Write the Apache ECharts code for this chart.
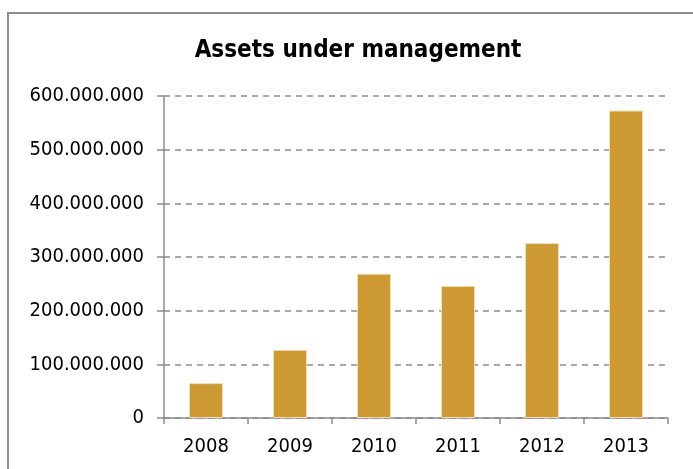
<!DOCTYPE html>
<html>
<head>
<meta charset="utf-8">
<title>Assets under management</title>
<script src="https://cdn.jsdelivr.net/npm/echarts@6/dist/echarts.min.js"></script>
<style>
  html, body { margin: 0; padding: 0; background: #fff; }
  #main { width: 693px; height: 469px; }
</style>
</head>
<body>
<div id="main"></div>
<script>
// data
var years = ['2008', '2009', '2010', '2011', '2012', '2013'];
var assets = [65000000, 127000000, 269000000, 246000000, 326000000, 573000000];
var yTicks = [0, 100000000, 200000000, 300000000, 400000000, 500000000, 600000000];

// 600000000 -> 600.000.000
function dotted(v) {
    return String(v).replace(/\B(?=(\d{3})+(?!\d))/g, '.');
}

var font = 'DejaVu Sans Condensed, DejaVu Sans';

var chart = echarts.init(document.getElementById('main'));
chart.setOption({
    animation: false,
    textStyle: { fontFamily: font },
    title: {
        text: 'Assets under management',
        left: 353,
        top: 34,
        textAlign: 'center',
        textStyle: { fontSize: 24, fontWeight: 'bold', color: '#000', fontFamily: font }
    },
    graphic: [{
        type: 'rect',
        shape: { x: 8, y: 13, width: 720, height: 500 },
        style: { fill: 'none', stroke: '#8c8c8c', lineWidth: 2 },
        silent: true
    }],
    grid: { left: 164, right: 25, top: 96, bottom: 51 },
    xAxis: {
        type: 'category',
        data: years,
        axisLine: { lineStyle: { color: '#8c8c8c', width: 1.5 } },
        axisTick: { show: true, length: 6, lineStyle: { color: '#8c8c8c', width: 1.5 } },
        axisLabel: { color: '#000', fontSize: 20, margin: 19, fontFamily: font }
    },
    yAxis: {
        type: 'value',
        min: yTicks[0],
        max: yTicks[yTicks.length - 1],
        interval: yTicks[1] - yTicks[0],
        axisLine: { show: true, lineStyle: { color: '#8c8c8c', width: 1.5 } },
        axisTick: { show: true, length: 7, lineStyle: { color: '#8c8c8c', width: 1.5 } },
        axisLabel: { color: '#000', fontSize: 20, margin: 20, formatter: dotted, fontFamily: font },
        splitLine: { show: true, lineStyle: { color: '#8c8c8c', width: 1.5, type: [6, 5] } }
    },
    series: [{
        type: 'bar',
        data: assets,
        barWidth: 34,
        itemStyle: { color: '#cc9933', borderColor: '#f3dfb8', borderWidth: 1 }
    }]
});
</script>
</body>
</html>
